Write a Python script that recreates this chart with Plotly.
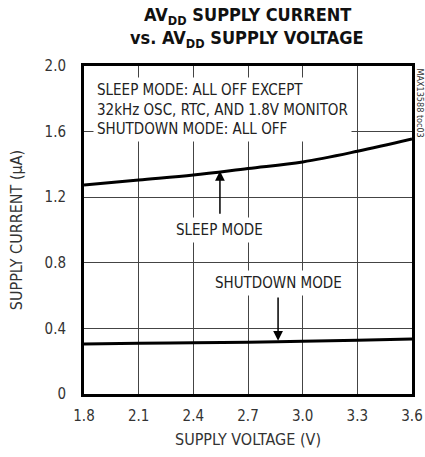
import plotly.graph_objects as go

voltage = [1.8, 2.1, 2.4, 2.7, 3.0, 3.3, 3.6]
sleep_current = [1.274, 1.305, 1.335, 1.375, 1.415, 1.480, 1.555]
shutdown_current = [0.305, 0.310, 0.312, 0.315, 0.322, 0.328, 0.335]

x_ticks = [1.8, 2.1, 2.4, 2.7, 3.0, 3.3, 3.6]
x_ticktext = ["1.8", "2.1", "2.4", "2.7", "3.0", "3.3", "3.6"]
y_ticks = [0, 0.4, 0.8, 1.2, 1.6, 2.0]
y_ticktext = ["0", "0.4", "0.8", "1.2", "1.6", "2.0"]

FONT = "DejaVu Sans Condensed, Liberation Sans Narrow, sans-serif"

W, H = 425, 457
L, R, T, B = 84, 13, 66, 63
pw, ph = W - L - R, H - T - B


def px(xs):
    return (xs - L) / pw


def py(ys):
    return (H - B - ys) / ph


fig = go.Figure()
fig.add_trace(go.Scatter(x=voltage, y=sleep_current, mode="lines",
                         line=dict(color="black", width=3, shape="spline"),
                         showlegend=False, hoverinfo="skip"))
fig.add_trace(go.Scatter(x=voltage, y=shutdown_current, mode="lines",
                         line=dict(color="black", width=3, shape="spline"),
                         showlegend=False, hoverinfo="skip"))

ann = []
ann.append(dict(text="<b>AV<sub>DD</sub> SUPPLY CURRENT</b>", x=px(247), y=py(16),
                xref="paper", yref="paper", xanchor="center", yanchor="middle",
                showarrow=False, font=dict(family=FONT, size=18, color="#111")))
ann.append(dict(text="<b>vs. AV<sub>DD</sub> SUPPLY VOLTAGE</b>", x=px(247), y=py(39),
                xref="paper", yref="paper", xanchor="center", yanchor="middle",
                showarrow=False, font=dict(family=FONT, size=18, color="#111")))
ann.append(dict(text="SLEEP MODE: ALL OFF EXCEPT<br>32kHz OSC, RTC, AND 1.8V MONITOR<br>SHUTDOWN MODE: ALL OFF",
                x=1.85, y=1.935, xref="x", yref="y", xanchor="left", yanchor="top",
                align="left", showarrow=False, bgcolor="white", borderpad=3,
                font=dict(family=FONT, size=15, color="#222")))
ann.append(dict(text="SLEEP MODE", x=2.546, y=1.0, xref="x", yref="y",
                showarrow=False, bgcolor="white", borderpad=3,
                font=dict(family=FONT, size=15, color="#222")))
ann.append(dict(text="", x=2.546, y=1.36, ax=2.546, ay=1.09, xref="x", yref="y",
                axref="x", ayref="y", showarrow=True, arrowhead=2, arrowsize=1.3,
                arrowwidth=1.5, arrowcolor="black", standoff=0))
ann.append(dict(text="SHUTDOWN MODE", x=2.865, y=0.675, xref="x", yref="y",
                showarrow=False, bgcolor="white", borderpad=3,
                font=dict(family=FONT, size=15, color="#222")))
ann.append(dict(text="", x=2.865, y=0.325, ax=2.865, ay=0.597, xref="x", yref="y",
                axref="x", ayref="y", showarrow=True, arrowhead=2, arrowsize=1.3,
                arrowwidth=1.5, arrowcolor="black", standoff=0))
ann.append(dict(text="MAX13588 toc03", x=1.0, y=1.0, xref="paper", yref="paper",
                xanchor="left", yanchor="top", xshift=1, textangle=90, showarrow=False,
                font=dict(family=FONT, size=9, color="#333")))

fig.update_layout(
    width=W, height=H,
    margin=dict(l=L, r=R, t=T, b=B),
    paper_bgcolor="white", plot_bgcolor="white",
    annotations=ann,
    xaxis=dict(range=[1.8, 3.6], tickvals=x_ticks, ticktext=x_ticktext,
               showgrid=True, gridcolor="#444", gridwidth=1,
               showline=True, linecolor="black", linewidth=3, mirror=True,
               ticks="", zeroline=False, automargin=False, ticklabelstandoff=6,
               tickfont=dict(family=FONT, size=15, color="#333"),
               title=dict(text="SUPPLY VOLTAGE (V)", standoff=10,
                          font=dict(family=FONT, size=16, color="#333"))),
    yaxis=dict(range=[0, 2.0], tickvals=y_ticks, ticktext=y_ticktext,
               showgrid=True, gridcolor="#444", gridwidth=1,
               showline=True, linecolor="black", linewidth=3, mirror=True,
               ticks="", zeroline=False, automargin=False, ticklabelstandoff=12,
               tickfont=dict(family=FONT, size=15, color="#333"),
               title=dict(text="SUPPLY CURRENT (µA)", standoff=18,
                          font=dict(family=FONT, size=16, color="#333"))),
)

fig.write_html("out.html", config={"displayModeBar": False, "staticPlot": True},
               post_script="document.body.style.margin='0';document.body.style.overflow='hidden';")
